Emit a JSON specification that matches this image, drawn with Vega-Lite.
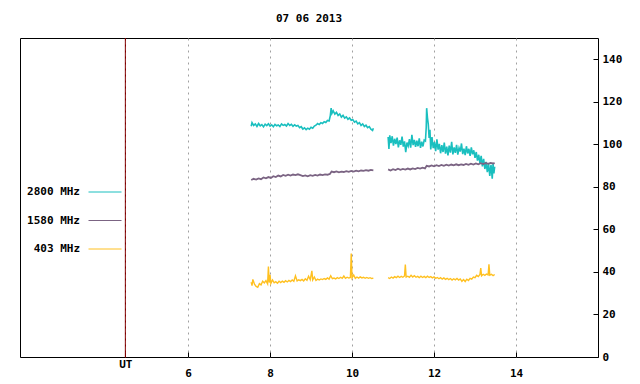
{
"$schema": "https://vega.github.io/schema/vega-lite/v6.json",
"width": 578, "height": 319,
"autosize": {"type": "none"},
"padding": {"left": 20, "top": 38, "right": 42, "bottom": 27},
"background": "white",
"title": {"text": "07 06 2013", "font": "DejaVu Sans Mono", "fontWeight": "bold", "fontSize": 11, "color": "black", "anchor": "middle", "baseline": "alphabetic", "offset": 5},
"config": {
"view": {"stroke": "black", "strokeWidth": 1},
"axis": {"labelFont": "DejaVu Sans Mono", "labelFontWeight": "bold", "labelFontSize": 11, "labelColor": "black", "domain": false, "title": null, "tickColor": "black"},
"legend": {"orient": "none", "legendX": 68, "legendY": 137, "symbolType": "stroke", "symbolSize": 1089, "symbolStrokeWidth": 1, "labelAlign": "right", "labelOffset": -42, "padding": 0, "rowPadding": 6.5, "labelFont": "DejaVu Sans Mono", "labelFontWeight": "bold", "labelFontSize": 11, "labelColor": "black", "title": null}
},
"datasets": {
"c1": [{"t":7.54,"v":108.5},{"t":7.56,"v":110.2},{"t":7.60,"v":108.9},{"t":7.64,"v":109.6},{"t":7.68,"v":108.4},{"t":7.72,"v":109.8},{"t":7.76,"v":108.7},{"t":7.80,"v":109.3},{"t":7.84,"v":108.2},{"t":7.88,"v":109.5},{"t":7.92,"v":108.8},{"t":7.96,"v":109.7},{"t":8.00,"v":108.6},{"t":8.04,"v":109.2},{"t":8.08,"v":108.3},{"t":8.12,"v":109.4},{"t":8.16,"v":108.7},{"t":8.20,"v":109.1},{"t":8.24,"v":108.4},{"t":8.28,"v":109.6},{"t":8.32,"v":108.9},{"t":8.36,"v":109.3},{"t":8.40,"v":108.6},{"t":8.44,"v":109.8},{"t":8.48,"v":108.9},{"t":8.52,"v":109.4},{"t":8.56,"v":108.5},{"t":8.60,"v":109.2},{"t":8.64,"v":108.6},{"t":8.68,"v":108.9},{"t":8.72,"v":107.8},{"t":8.76,"v":108.3},{"t":8.80,"v":107.2},{"t":8.84,"v":107.8},{"t":8.88,"v":106.9},{"t":8.92,"v":107.6},{"t":8.96,"v":107.1},{"t":9.00,"v":108.0},{"t":9.04,"v":107.6},{"t":9.08,"v":108.6},{"t":9.12,"v":109.0},{"t":9.16,"v":109.8},{"t":9.20,"v":109.3},{"t":9.24,"v":110.2},{"t":9.28,"v":109.8},{"t":9.32,"v":110.6},{"t":9.36,"v":110.3},{"t":9.40,"v":111.2},{"t":9.44,"v":111.0},{"t":9.47,"v":113.5},{"t":9.49,"v":117.0},{"t":9.51,"v":114.6},{"t":9.54,"v":115.8},{"t":9.58,"v":114.2},{"t":9.62,"v":115.0},{"t":9.66,"v":113.6},{"t":9.70,"v":114.3},{"t":9.74,"v":112.8},{"t":9.78,"v":113.6},{"t":9.82,"v":112.3},{"t":9.86,"v":112.9},{"t":9.90,"v":111.8},{"t":9.94,"v":112.4},{"t":9.98,"v":111.3},{"t":10.02,"v":111.6},{"t":10.06,"v":110.4},{"t":10.10,"v":110.9},{"t":10.14,"v":109.6},{"t":10.18,"v":110.2},{"t":10.22,"v":108.9},{"t":10.26,"v":109.6},{"t":10.30,"v":108.4},{"t":10.34,"v":109.0},{"t":10.38,"v":107.8},{"t":10.42,"v":108.3},{"t":10.46,"v":107.1},{"t":10.50,"v":106.5},{"t":10.52,"v":107.6}],
"c2": [{"t":10.88,"v":103.5},{"t":10.90,"v":97.8},{"t":10.92,"v":104.2},{"t":10.95,"v":100.6},{"t":10.98,"v":103.8},{"t":11.01,"v":99.4},{"t":11.04,"v":102.6},{"t":11.07,"v":100.1},{"t":11.10,"v":103.2},{"t":11.13,"v":98.6},{"t":11.16,"v":101.9},{"t":11.19,"v":99.8},{"t":11.22,"v":103.6},{"t":11.25,"v":98.9},{"t":11.28,"v":101.4},{"t":11.31,"v":96.3},{"t":11.34,"v":100.8},{"t":11.37,"v":99.2},{"t":11.40,"v":102.4},{"t":11.43,"v":98.4},{"t":11.46,"v":104.5},{"t":11.49,"v":99.6},{"t":11.52,"v":102.1},{"t":11.55,"v":98.8},{"t":11.58,"v":101.7},{"t":11.61,"v":99.1},{"t":11.64,"v":102.8},{"t":11.67,"v":98.3},{"t":11.70,"v":101.2},{"t":11.73,"v":99.0},{"t":11.76,"v":102.0},{"t":11.79,"v":101.6},{"t":11.81,"v":108.0},{"t":11.82,"v":117.0},{"t":11.84,"v":112.5},{"t":11.86,"v":109.4},{"t":11.88,"v":103.0},{"t":11.90,"v":106.8},{"t":11.92,"v":97.6},{"t":11.95,"v":103.4},{"t":11.98,"v":98.2},{"t":12.01,"v":101.0},{"t":12.04,"v":96.8},{"t":12.07,"v":102.3},{"t":12.10,"v":97.5},{"t":12.13,"v":100.2},{"t":12.16,"v":95.8},{"t":12.19,"v":99.6},{"t":12.22,"v":96.4},{"t":12.25,"v":100.8},{"t":12.28,"v":95.6},{"t":12.31,"v":98.9},{"t":12.34,"v":94.8},{"t":12.37,"v":99.4},{"t":12.40,"v":96.1},{"t":12.43,"v":101.2},{"t":12.46,"v":95.3},{"t":12.49,"v":98.6},{"t":12.52,"v":96.0},{"t":12.55,"v":99.8},{"t":12.58,"v":95.2},{"t":12.61,"v":98.3},{"t":12.64,"v":96.6},{"t":12.67,"v":100.4},{"t":12.70,"v":95.4},{"t":12.73,"v":98.0},{"t":12.76,"v":94.9},{"t":12.79,"v":99.1},{"t":12.82,"v":95.7},{"t":12.85,"v":97.9},{"t":12.88,"v":94.6},{"t":12.91,"v":98.6},{"t":12.94,"v":95.3},{"t":12.97,"v":97.2},{"t":13.00,"v":93.6},{"t":13.03,"v":96.4},{"t":13.06,"v":92.3},{"t":13.09,"v":95.1},{"t":13.12,"v":91.2},{"t":13.15,"v":94.6},{"t":13.18,"v":89.6},{"t":13.21,"v":93.2},{"t":13.24,"v":88.4},{"t":13.27,"v":91.8},{"t":13.30,"v":86.9},{"t":13.33,"v":91.0},{"t":13.36,"v":85.2},{"t":13.39,"v":90.4},{"t":13.42,"v":83.8},{"t":13.44,"v":90.8},{"t":13.46,"v":86.3},{"t":13.48,"v":89.5}],
"p1": [{"t":7.54,"v":83.2},{"t":7.60,"v":83.8},{"t":7.66,"v":83.4},{"t":7.72,"v":84.0},{"t":7.78,"v":83.6},{"t":7.84,"v":84.4},{"t":7.90,"v":84.0},{"t":7.96,"v":84.6},{"t":8.02,"v":84.2},{"t":8.08,"v":85.0},{"t":8.14,"v":84.6},{"t":8.20,"v":85.3},{"t":8.26,"v":84.9},{"t":8.32,"v":85.6},{"t":8.38,"v":85.2},{"t":8.44,"v":85.7},{"t":8.50,"v":85.3},{"t":8.56,"v":85.8},{"t":8.62,"v":85.5},{"t":8.68,"v":85.9},{"t":8.74,"v":85.5},{"t":8.80,"v":85.1},{"t":8.86,"v":85.4},{"t":8.92,"v":85.0},{"t":8.98,"v":85.5},{"t":9.04,"v":85.2},{"t":9.10,"v":85.6},{"t":9.16,"v":85.3},{"t":9.22,"v":85.8},{"t":9.28,"v":85.5},{"t":9.34,"v":85.9},{"t":9.40,"v":85.7},{"t":9.46,"v":86.1},{"t":9.50,"v":87.2},{"t":9.56,"v":86.9},{"t":9.62,"v":87.3},{"t":9.68,"v":86.8},{"t":9.74,"v":87.2},{"t":9.80,"v":87.0},{"t":9.86,"v":87.4},{"t":9.92,"v":87.1},{"t":9.98,"v":87.5},{"t":10.04,"v":87.2},{"t":10.10,"v":87.6},{"t":10.16,"v":87.3},{"t":10.22,"v":87.7},{"t":10.28,"v":87.5},{"t":10.34,"v":87.9},{"t":10.40,"v":87.6},{"t":10.46,"v":88.0},{"t":10.52,"v":87.8}],
"p2": [{"t":10.88,"v":88.2},{"t":10.94,"v":87.7},{"t":11.00,"v":88.3},{"t":11.06,"v":87.9},{"t":11.12,"v":88.5},{"t":11.18,"v":88.0},{"t":11.24,"v":88.4},{"t":11.30,"v":88.1},{"t":11.36,"v":88.6},{"t":11.42,"v":88.2},{"t":11.48,"v":88.7},{"t":11.54,"v":88.4},{"t":11.60,"v":88.9},{"t":11.66,"v":88.6},{"t":11.72,"v":89.0},{"t":11.78,"v":88.7},{"t":11.82,"v":89.9},{"t":11.88,"v":89.6},{"t":11.94,"v":90.1},{"t":12.00,"v":89.7},{"t":12.06,"v":90.2},{"t":12.12,"v":89.8},{"t":12.18,"v":90.3},{"t":12.24,"v":89.9},{"t":12.30,"v":90.4},{"t":12.36,"v":90.0},{"t":12.42,"v":90.5},{"t":12.48,"v":90.1},{"t":12.54,"v":90.6},{"t":12.60,"v":90.2},{"t":12.66,"v":90.6},{"t":12.72,"v":90.3},{"t":12.78,"v":90.8},{"t":12.84,"v":90.4},{"t":12.90,"v":90.9},{"t":12.96,"v":90.5},{"t":13.02,"v":91.0},{"t":13.08,"v":90.6},{"t":13.14,"v":91.1},{"t":13.20,"v":90.7},{"t":13.26,"v":91.2},{"t":13.32,"v":90.8},{"t":13.38,"v":91.3},{"t":13.44,"v":91.0},{"t":13.48,"v":91.2}],
"y1": [{"t":7.54,"v":35.2},{"t":7.56,"v":33.6},{"t":7.58,"v":36.5},{"t":7.62,"v":34.2},{"t":7.66,"v":33.2},{"t":7.70,"v":32.8},{"t":7.74,"v":34.5},{"t":7.78,"v":33.9},{"t":7.82,"v":35.6},{"t":7.86,"v":34.8},{"t":7.90,"v":35.9},{"t":7.94,"v":34.4},{"t":7.96,"v":42.5},{"t":7.98,"v":35.0},{"t":8.00,"v":38.6},{"t":8.02,"v":34.6},{"t":8.06,"v":36.2},{"t":8.10,"v":34.9},{"t":8.14,"v":35.4},{"t":8.18,"v":34.7},{"t":8.22,"v":35.6},{"t":8.26,"v":35.0},{"t":8.30,"v":35.7},{"t":8.34,"v":35.1},{"t":8.38,"v":35.9},{"t":8.42,"v":35.3},{"t":8.46,"v":36.0},{"t":8.50,"v":35.5},{"t":8.54,"v":36.2},{"t":8.58,"v":35.6},{"t":8.62,"v":38.2},{"t":8.66,"v":35.8},{"t":8.70,"v":36.3},{"t":8.74,"v":35.9},{"t":8.78,"v":36.5},{"t":8.82,"v":35.8},{"t":8.86,"v":36.8},{"t":8.90,"v":36.1},{"t":8.94,"v":38.0},{"t":8.98,"v":36.3},{"t":9.02,"v":40.5},{"t":9.04,"v":36.2},{"t":9.08,"v":37.6},{"t":9.12,"v":36.0},{"t":9.16,"v":36.6},{"t":9.20,"v":36.2},{"t":9.24,"v":36.7},{"t":9.28,"v":36.4},{"t":9.32,"v":36.9},{"t":9.36,"v":36.5},{"t":9.40,"v":37.2},{"t":9.44,"v":36.6},{"t":9.48,"v":38.2},{"t":9.52,"v":36.8},{"t":9.56,"v":37.1},{"t":9.60,"v":36.7},{"t":9.64,"v":37.3},{"t":9.68,"v":36.9},{"t":9.72,"v":37.5},{"t":9.76,"v":37.0},{"t":9.80,"v":38.1},{"t":9.84,"v":37.0},{"t":9.88,"v":37.5},{"t":9.92,"v":37.1},{"t":9.96,"v":37.4},{"t":9.98,"v":48.6},{"t":10.00,"v":37.2},{"t":10.04,"v":38.6},{"t":10.08,"v":37.0},{"t":10.12,"v":37.6},{"t":10.16,"v":37.1},{"t":10.20,"v":37.7},{"t":10.24,"v":37.2},{"t":10.28,"v":37.5},{"t":10.32,"v":37.0},{"t":10.36,"v":37.4},{"t":10.40,"v":37.0},{"t":10.44,"v":37.3},{"t":10.48,"v":36.9},{"t":10.52,"v":37.1}],
"y2": [{"t":10.88,"v":37.3},{"t":10.92,"v":36.9},{"t":10.96,"v":37.6},{"t":11.00,"v":37.1},{"t":11.04,"v":37.8},{"t":11.08,"v":37.3},{"t":11.12,"v":38.0},{"t":11.16,"v":37.4},{"t":11.20,"v":37.9},{"t":11.24,"v":37.5},{"t":11.28,"v":38.1},{"t":11.30,"v":43.5},{"t":11.32,"v":37.6},{"t":11.36,"v":38.0},{"t":11.40,"v":37.5},{"t":11.44,"v":38.4},{"t":11.48,"v":37.6},{"t":11.52,"v":38.2},{"t":11.56,"v":37.5},{"t":11.60,"v":37.9},{"t":11.64,"v":37.3},{"t":11.68,"v":38.0},{"t":11.72,"v":37.4},{"t":11.76,"v":37.9},{"t":11.80,"v":37.3},{"t":11.84,"v":38.0},{"t":11.88,"v":37.4},{"t":11.92,"v":37.8},{"t":11.96,"v":37.2},{"t":12.00,"v":37.7},{"t":12.04,"v":37.0},{"t":12.08,"v":37.4},{"t":12.12,"v":36.8},{"t":12.16,"v":37.3},{"t":12.20,"v":36.6},{"t":12.24,"v":37.2},{"t":12.28,"v":36.5},{"t":12.32,"v":37.0},{"t":12.36,"v":36.4},{"t":12.40,"v":36.9},{"t":12.44,"v":36.2},{"t":12.48,"v":36.8},{"t":12.52,"v":36.3},{"t":12.56,"v":36.9},{"t":12.60,"v":36.2},{"t":12.64,"v":36.7},{"t":12.68,"v":35.6},{"t":12.72,"v":36.4},{"t":12.76,"v":35.5},{"t":12.80,"v":36.6},{"t":12.84,"v":36.0},{"t":12.88,"v":37.0},{"t":12.92,"v":36.6},{"t":12.96,"v":37.6},{"t":13.00,"v":37.3},{"t":13.04,"v":38.4},{"t":13.08,"v":37.8},{"t":13.12,"v":38.8},{"t":13.14,"v":41.8},{"t":13.16,"v":38.2},{"t":13.20,"v":38.9},{"t":13.24,"v":38.4},{"t":13.28,"v":39.0},{"t":13.32,"v":38.6},{"t":13.34,"v":43.6},{"t":13.36,"v":38.5},{"t":13.40,"v":38.9},{"t":13.44,"v":38.3},{"t":13.48,"v":38.8}]
},
"encoding": {
"x": {"field": "t", "type": "quantitative", "scale": {"domain": [1.9, 16], "nice": false, "zero": false},
 "axis": {"orient": "bottom", "values": [4.47, 6, 8, 10, 12, 14], "labelExpr": "datum.value < 5 ? 'UT' : datum.label", "format": "d", "grid": true,
  "gridColor": {"condition": {"test": "datum.value < 5", "value": "#800000"}, "value": "#a0a0a0"},
  "tickColor": {"condition": {"test": "datum.value < 5", "value": "#800000"}, "value": "black"},
  "labelBaseline": {"condition": {"test": "datum.value < 5", "value": "alphabetic"}, "value": "top"},
  "gridDash": [2, 4], "gridWidth": 1, "tickSize": -5, "labelPadding": 15}},
"y": {"field": "v", "type": "quantitative", "scale": {"domain": [0, 150], "nice": false},
 "axis": {"orient": "right", "values": [0, 20, 40, 60, 80, 100, 120, 140], "grid": false, "tickSize": -5, "labelPadding": 9, "labelAlign": "left"}}
},
"layer": [
{"data": {"name": "c1"}, "mark": {"type": "line", "strokeWidth": 1.6},
 "encoding": {"color": {"datum": "2800 MHz", "type": "nominal", "scale": {"domain": ["2800 MHz", "1580 MHz", "403 MHz"], "range": ["#1abfbf", "#7b6483", "#ffc020"]}}}},
{"data": {"name": "c2"}, "mark": {"type": "line", "strokeWidth": 1.6}, "encoding": {"color": {"datum": "2800 MHz", "type": "nominal"}}},
{"data": {"name": "p1"}, "mark": {"type": "line", "strokeWidth": 1.8}, "encoding": {"color": {"datum": "1580 MHz", "type": "nominal"}}},
{"data": {"name": "p2"}, "mark": {"type": "line", "strokeWidth": 1.8}, "encoding": {"color": {"datum": "1580 MHz", "type": "nominal"}}},
{"data": {"name": "y1"}, "mark": {"type": "line", "strokeWidth": 1.4}, "encoding": {"color": {"datum": "403 MHz", "type": "nominal"}}},
{"data": {"name": "y2"}, "mark": {"type": "line", "strokeWidth": 1.4}, "encoding": {"color": {"datum": "403 MHz", "type": "nominal"}}},
{"data": {"values": [{"t": 4.47}]}, "mark": {"type": "rule", "color": "#800000", "strokeWidth": 1},
 "encoding": {"x": {"field": "t", "type": "quantitative"}, "y": null}}
]
}
